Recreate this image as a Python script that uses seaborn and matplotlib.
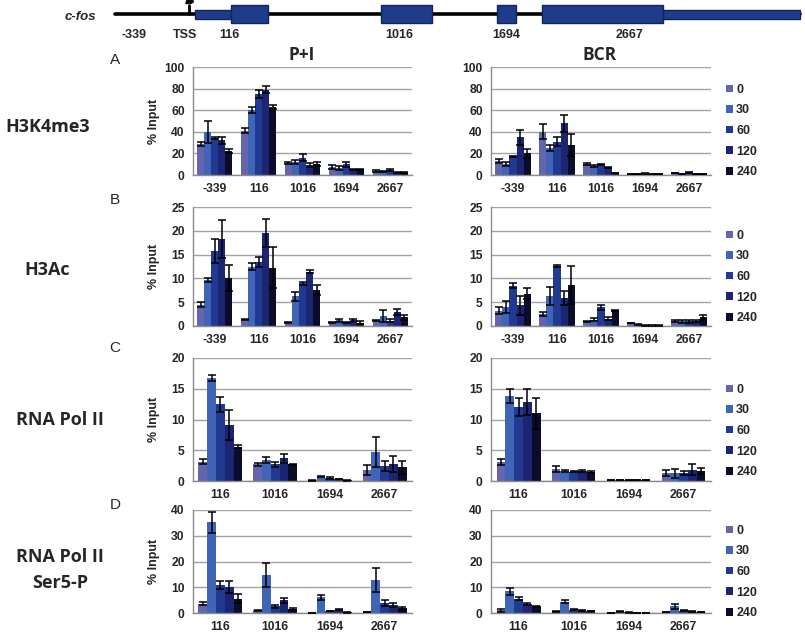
import numpy as np
import pandas as pd
import matplotlib
matplotlib.use("Agg")
import matplotlib.pyplot as plt
import seaborn as sns
from matplotlib.patches import Rectangle
from matplotlib.container import BarContainer

# ---------------- data ----------------
times = ["0", "30", "60", "120", "240"]
sites_ab = ["-339", "116", "1016", "1694", "2667"]
sites_cd = ["116", "1016", "1694", "2667"]

# values[time][site]
h3k4_pi = [[29, 41, 11, 7.5, 3.7], [40, 60, 12, 6.5, 3.4], [34, 75, 16, 10, 4.6],
           [32, 79, 9, 5, 2.1], [22, 63, 10, 5.5, 2.1]]
h3k4_pi_err = [[2, 2.5, 1, 1.5, 0.7], [10, 3, 1.5, 1.5, 0.5], [1, 4, 3, 2.5, 0.5],
               [3, 3, 2, 0.5, 0.4], [2, 1.5, 2, 0.5, 0.4]]
h3k4_bcr = [[13, 40, 10, 1, 2], [10, 25, 8, 1, 1], [17, 31, 10, 1.3, 2.5],
            [35, 48, 7, 1, 1], [20, 28, 2, 1, 1]]
h3k4_bcr_err = [[2, 7, 1, 0.2, 0.3], [2, 3, 1, 0.2, 0.2], [0.5, 4, 0.5, 0.2, 0.3],
                [7, 8, 0.5, 0.2, 0.2], [4, 10, 0.3, 0.2, 0.2]]

h3ac_pi = [[4.5, 1.3, 0.8, 0.7, 1.1], [9.6, 12.5, 6.2, 1.2, 2.1], [15.7, 13.4, 9.0, 0.8, 1.1],
           [18.2, 19.6, 11.4, 1.2, 2.9], [10.1, 12.2, 7.6, 0.7, 1.8]]
h3ac_pi_err = [[0.6, 0.1, 0.1, 0.1, 0.1], [0.4, 0.8, 1.0, 0.3, 1.2], [2.5, 1.0, 0.3, 0.1, 0.3],
               [4.0, 2.9, 0.3, 0.3, 0.6], [2.7, 4.3, 1.0, 0.3, 0.6]]
h3ac_bcr = [[3.2, 2.5, 1.0, 0.6, 1.0], [4.0, 6.3, 1.3, 0.3, 1.0], [8.5, 12.6, 3.9, 0.15, 1.0],
            [4.4, 5.9, 1.5, 0.1, 1.0], [6.8, 8.7, 3.3, 0.1, 1.8]]
h3ac_bcr_err = [[0.7, 0.5, 0.1, 0.05, 0.2], [1.3, 1.8, 0.3, 0.05, 0.3], [0.6, 0.3, 0.5, 0.05, 0.3],
                [2.0, 1.5, 0.3, 0.05, 0.2], [1.2, 4.0, 0.1, 0.05, 0.5]]

pol2_pi = [[3.1, 2.7, 0.1, 1.8], [16.8, 3.4, 0.7, 4.7], [12.5, 2.7, 0.5, 2.5],
           [9.1, 3.7, 0.35, 2.8], [5.6, 2.7, 0.1, 2.2]]
pol2_pi_err = [[0.4, 0.25, 0.05, 0.8], [0.5, 0.5, 0.1, 2.5], [1.2, 0.35, 0.1, 0.8],
               [2.5, 0.7, 0.05, 1.3], [0.3, 0.1, 0.05, 1.0]]
pol2_bcr = [[3.1, 1.9, 0.15, 1.25], [13.8, 1.6, 0.15, 1.25], [12.05, 1.5, 0.15, 1.3],
            [12.8, 1.6, 0.15, 1.8], [11.0, 1.5, 0.15, 1.6]]
pol2_bcr_err = [[0.5, 0.5, 0.05, 0.5], [1.1, 0.2, 0.05, 0.7], [1.5, 0.1, 0.05, 0.3],
                [2.1, 0.15, 0.05, 0.9], [2.5, 0.15, 0.05, 0.5]]

ser5_pi = [[3.6, 1.0, 0.1, 0.3], [35.2, 14.9, 6.1, 12.8], [10.8, 2.6, 0.7, 3.8],
           [10.1, 5.0, 1.2, 3.0], [5.6, 1.6, 0.2, 1.8]]
ser5_pi_err = [[0.6, 0.2, 0.05, 0.1], [4.2, 4.7, 0.9, 4.5], [1.6, 0.6, 0.1, 1.2],
               [2.3, 1.0, 0.2, 0.8], [1.8, 0.3, 0.05, 0.5]]
ser5_bcr = [[1.0, 0.6, 0.1, 0.4], [8.4, 4.3, 0.5, 2.6], [5.6, 1.2, 0.2, 0.9],
            [3.5, 0.9, 0.1, 0.5], [2.6, 0.7, 0.1, 0.4]]
ser5_bcr_err = [[0.5, 0.1, 0.05, 0.1], [1.3, 0.6, 0.1, 1.0], [0.5, 0.2, 0.05, 0.3],
                [0.4, 0.1, 0.05, 0.1], [0.2, 0.1, 0.05, 0.1]]

row_labels = ["H3K4me3", "H3Ac", "RNA Pol II", "RNA Pol II\nSer5-P"]
panel_letters = ["A", "B", "C", "D"]
y_limits = [100, 25, 20, 40]
y_steps = [20, 5, 5, 10]
col_titles = ["P+I", "BCR"]

# gene schematic
gene_labels = ["-339", "TSS", "116", "1016", "1694", "2667"]

# ---------------- style ----------------
colors = ["#6465ad", "#4065b6", "#1f3a90", "#1b2571", "#0b0b2b"]
grid_c = "#a3a3a3"
W, H = 805, 632
sns.set_style("white")
plt.rcParams["font.family"] = ["Liberation Sans", "DejaVu Sans"]
TICK_FS = 8.7

fig = plt.figure(figsize=(W / 100, H / 100), dpi=100)

# overlay axes in pixel coordinates for schematic and labels
ov = fig.add_axes([0, 0, 1, 1])
ov.set_xlim(0, W)
ov.set_ylim(H, 0)
ov.axis("off")

gy = 14
ov.plot([115, 800], [gy, gy], color="black", lw=2.6, zorder=1)
box_c, box_e = "#1f3c8a", "#14245a"
for x0, x1 in [(195, 231), (663, 800)]:
    ov.add_patch(Rectangle((x0, gy - 4.5), x1 - x0, 9, fc=box_c, ec=box_e, lw=1, zorder=2))
for x0, x1 in [(231, 268), (381, 432), (497, 516), (542, 663)]:
    ov.add_patch(Rectangle((x0, gy - 9), x1 - x0, 18, fc=box_c, ec=box_e, lw=1, zorder=3))
ov.plot([189, 189], [gy, 5], color="black", lw=2, zorder=2)
ov.annotate("", xy=(197, 4), xytext=(188.5, 4.5),
            arrowprops=dict(arrowstyle="-|>,head_width=0.25,head_length=0.35", color="black",
                            lw=2, connectionstyle="arc3,rad=-0.5"), zorder=4)
ov.text(80, 17, "c-fos", fontsize=9.5, fontweight="bold", style="italic", ha="center", va="center")
for lab, x in zip(gene_labels, [134, 185, 229, 399, 506, 629]):
    ov.text(x, 35, lab, fontsize=9, fontweight="bold", ha="center", va="center")

for t, x in zip(col_titles, [302, 600]):
    ov.text(x, 55, t, fontsize=12.5, fontweight="bold", ha="center", va="center",
            family=["Open Sans", "DejaVu Sans"])

row_label_pos = [(48, 127), (47, 270), (60, 420), (60, 570)]
for lab, (x, y) in zip(row_labels, row_label_pos):
    ov.text(x, y, lab, fontsize=13, fontweight="bold", ha="center", va="center",
            family=["Open Sans", "DejaVu Sans"], linespacing=1.5)
for lab, y in zip(panel_letters, [60, 200, 348, 505]):
    ov.text(115, y, lab, fontsize=11, ha="center", va="center")

# axes placement (pixels)
rows_px = [(67, 175), (207, 326), (358, 481), (510, 613)]
cols_px = [(193, 412), (491, 711)]
legend_first = [86, 232, 386, 527]

panels = [
    [(h3k4_pi, h3k4_pi_err), (h3k4_bcr, h3k4_bcr_err)],
    [(h3ac_pi, h3ac_pi_err), (h3ac_bcr, h3ac_bcr_err)],
    [(pol2_pi, pol2_pi_err), (pol2_bcr, pol2_bcr_err)],
    [(ser5_pi, ser5_pi_err), (ser5_bcr, ser5_bcr_err)],
]
row_sites = [sites_ab, sites_ab, sites_cd, sites_cd]


def to_df(vals, sites):
    recs = []
    for ti, t in enumerate(times):
        for si, s in enumerate(sites):
            recs.append({"site": s, "time": t, "value": vals[ti][si]})
    return pd.DataFrame(recs)


for r in range(4):
    top, bot = rows_px[r]
    sites = row_sites[r]
    for c in range(2):
        x0, x1 = cols_px[c]
        ax = fig.add_axes([x0 / W, (H - bot) / H, (x1 - x0) / W, (bot - top) / H])
        vals, errs = panels[r][c]
        df = to_df(vals, sites)
        sns.barplot(data=df, x="site", y="value", hue="time", order=sites, hue_order=times,
                    palette=colors, errorbar=None, width=0.8, ax=ax, saturation=1,
                    linewidth=0, legend=(c == 1))
        bar_conts = [ct for ct in ax.containers if isinstance(ct, BarContainer)]
        for ti, cont in enumerate(bar_conts):
            for si, bar in enumerate(cont.patches):
                xc = bar.get_x() + bar.get_width() / 2
                ax.errorbar(xc, bar.get_height(), yerr=errs[ti][si], fmt="none",
                            ecolor="black", elinewidth=1.1, capsize=2.6, capthick=1.1, zorder=5)
        ax.set_xlim(-0.5, len(sites) - 0.5)
        ax.set_ylim(0, y_limits[r])
        ax.set_yticks(np.arange(0, y_limits[r] + 0.1, y_steps[r]))
        ax.yaxis.grid(True, color=grid_c, lw=1)
        ax.set_axisbelow(True)
        for s in ["top", "right"]:
            ax.spines[s].set_visible(False)
        for s in ["left", "bottom"]:
            ax.spines[s].set_color("#8c8c8c")
            ax.spines[s].set_linewidth(1)
        ax.set_xticks(np.arange(-0.5, len(sites), 1.0), minor=True)
        ax.tick_params(axis="x", which="major", length=0, pad=6, labelsize=TICK_FS)
        ax.tick_params(axis="x", which="minor", length=4, color="#8c8c8c", direction="out")
        ax.tick_params(axis="y", length=4, color="#8c8c8c", direction="out", pad=2, labelsize=TICK_FS)
        for lab in ax.get_xticklabels() + ax.get_yticklabels():
            lab.set_fontweight("bold")
        ax.set_xlabel("")
        if c == 0:
            ax.set_ylabel("% Input", fontsize=9, fontweight="bold")
            ax.yaxis.set_label_coords(-0.15, 0.5)
        else:
            ax.set_ylabel("")
            handles, labels = ax.get_legend_handles_labels()
            ax.get_legend().remove()
            ax.legend(handles, labels, loc="upper left", frameon=False,
                      bbox_to_anchor=(720 / W, 1 - (legend_first[r] - 8.5) / H),
                      bbox_transform=fig.transFigure,
                      handlelength=0.55, handleheight=0.55, handletextpad=0.25,
                      labelspacing=0.69, borderpad=0, prop={"weight": "bold", "size": 9})

fig.savefig("out.png", dpi=100)
